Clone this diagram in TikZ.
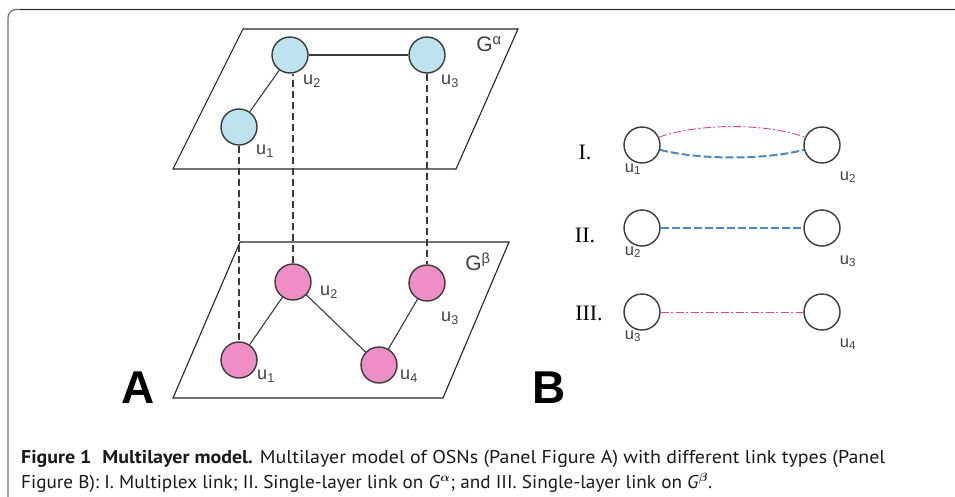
\documentclass[tikz,border=0pt]{standalone}
\usepackage{amsmath}
\usepackage{fontspec}
\usepackage{graphicx}
\setmainfont{Liberation Sans}
\newfontfamily\capfont{PT Sans}
\newfontfamily\romfont{Liberation Serif}
\definecolor{nodeline}{HTML}{3A3A3A}
\definecolor{cyanfill}{HTML}{BCE3EE}
\definecolor{pinkfill}{HTML}{EE8EC4}
\definecolor{linkblue}{HTML}{4A88C2}
\definecolor{linkmag}{HTML}{E0409E}
\definecolor{framegray}{HTML}{6E6E6E}
\tikzset{
  vtx/.style={circle, draw=nodeline, line width=1.4pt, minimum size=36pt, inner sep=0pt},
  bvtx/.style={vtx, fill=cyanfill},
  pvtx/.style={vtx, fill=pinkfill},
  wvtx/.style={vtx, fill=white},
  plane/.style={draw=black!85, line width=1.1pt},
  edge/.style={draw=nodeline, line width=1.1pt},
  vlink/.style={draw=nodeline, line width=1.1pt, dash pattern=on 7pt off 4pt},
  blink/.style={draw=linkblue, line width=2pt, dash pattern=on 8pt off 3pt},
  mlink/.style={draw=linkmag, line width=0.9pt, dash pattern=on 8pt off 2.5pt on 2pt off 2.5pt},
  lab/.style={font=\fontsize{18}{20}\selectfont, text=black!75, inner sep=0pt},
  blab/.style={font=\fontsize{16.5}{18}\selectfont, text=black!75, inner sep=0pt},
  glab/.style={font=\fontsize{21}{23}\selectfont, text=black!75, inner sep=0pt},
  rom/.style={font=\romfont\fontsize{22}{24}\selectfont, inner sep=0pt},
  panel/.style={font=\bfseries\fontsize{46}{48}\selectfont, inner sep=0pt},
  captxt/.style={font=\capfont\fontsize{18.5}{21}\selectfont, inner sep=0pt, anchor=base west, text=black!90}
}
\begin{document}
\begin{tikzpicture}[x=1pt,y=-1pt]
\useasboundingbox (0,0) rectangle (955,496);
% frame
\draw[framegray, line width=1.2pt, rounded corners=8pt] (956,9.5) -- (8,9.5) -- (8,497);
\draw[black!85, line width=1.2pt] (20,9.5) -- (956,9.5);
% planes
\draw[plane] (243,29) -- (518,29) -- (456,169) -- (173,169) -- cycle;
\draw[plane] (240,242) -- (509,242) -- (443,398) -- (173,398) -- cycle;
% top layer nodes
\node[bvtx] (tu1) at (239,127) {};
\node[bvtx] (tu2) at (290,55) {};
\node[bvtx] (tu3) at (427,55) {};
% bottom layer nodes
\node[pvtx] (bu1) at (239,360) {};
\node[pvtx] (bu2) at (293,282) {};
\node[pvtx] (bu3) at (427,283) {};
\node[pvtx] (bu4) at (379,365) {};
% edges
\draw[edge] (tu1) -- (tu2);
\draw[edge] (tu2) -- (tu3);
\draw[edge] (bu1) -- (bu2);
\draw[edge] (bu2) -- (bu4);
\draw[edge] (bu4) -- (bu3);
% interlayer links
\draw[vlink] (tu1.south) -- (bu1.north);
\draw[vlink] (bu2.north) -- (bu2.north |- tu2.south);
\draw[vlink] (tu3.south) -- (bu3.north);
% labels A
\node[lab] (l1) at (265,151) {u\textsubscript{1}};
\node[lab] (l2) at (312,81) {u\textsubscript{2}};
\node[lab] (l3) at (450,81) {u\textsubscript{3}};
\node[glab] (ga) at (489,44) {G\textsuperscript{α}};
\node[lab] (m1) at (266,376) {u\textsubscript{1}};
\node[lab] (m2) at (329,292) {u\textsubscript{2}};
\node[lab] (m3) at (450,318) {u\textsubscript{3}};
\node[lab] (m4) at (409,376) {u\textsubscript{4}};
\node[glab] (gb) at (478,262) {G\textsuperscript{β}};
\node[panel] (pa) at (138,388) {A};
\node[panel] (pb) at (549,388) {B};
% panel B
\node[rom] (r1) at (585,152) {I.};
\node[rom] (r2) at (585,235) {II.};
\node[rom] (r3) at (589,313) {III.};
\node[wvtx] (a1) at (642,145) {};
\node[wvtx] (a2) at (822,145) {};
\node[wvtx] (b1) at (642,228) {};
\node[wvtx] (b2) at (822,228) {};
\node[wvtx] (c1) at (642,312) {};
\node[wvtx] (c2) at (822,312) {};
\draw[mlink] (a1.25) .. controls (700,123) and (765,123) .. (a2.155);
\draw[blink] (a1.-15) .. controls (700,160) and (765,160) .. (a2.195);
\draw[blink] (b1) -- (b2);
\draw[mlink] (c1) -- (c2);
\node[blab] (n1) at (633,169) {u\textsubscript{1}};
\node[blab] (n2) at (848,177) {u\textsubscript{2}};
\node[blab] (n3) at (633,252) {u\textsubscript{2}};
\node[blab] (n4) at (848,261) {u\textsubscript{3}};
\node[blab] (n5) at (633,336) {u\textsubscript{3}};
\node[blab] (n6) at (848,344) {u\textsubscript{4}};
% caption
\node[captxt] (cap1) at (21,463) {\resizebox{864pt}{\height}{\textbf{Figure 1\hspace{0.55em}Multilayer model.} Multilayer model of OSNs (Panel Figure A) with different link types (Panel}};
\node[captxt] (cap2) at (21,488) {\resizebox{691pt}{\height}{Figure B): I. Multiplex link; II. Single-layer link on \textit{G}$^{\boldsymbol{\alpha}}$; and III. Single-layer link on \textit{G}$^{\boldsymbol{\beta}}$.}};
\end{tikzpicture}
\end{document}
